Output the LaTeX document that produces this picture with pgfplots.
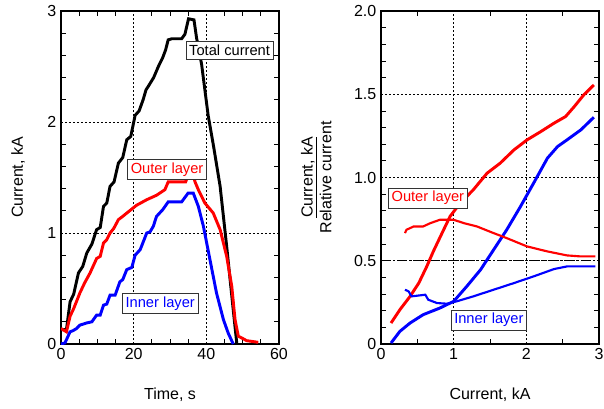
\documentclass[border=0pt]{standalone}
\usepackage{fontspec}
\setmainfont{Liberation Sans}
\usepackage{pgfplots}
\pgfplotsset{compat=1.18}

\pgfplotsset{
  panel/.style={
    scale only axis, width=163.5pt, height=249.75pt,
    anchor=south west,
    axis line style={line width=0.9pt},
    tick align=inside, major tick length=0pt, minor tick length=3.5pt,
    tick style={black, line width=0.6pt},
    grid=major,
    grid style={black, line width=0.45pt, dash pattern=on 1.6pt off 1.4pt},
    ticklabel style={font=\fontsize{12}{14}\selectfont},
    label style={font=\fontsize{12}{14}\selectfont},
    /pgf/number format/assume math mode=true,
  },
}
\tikzset{
  lbl/.style={draw=black!80, fill=white, line width=0.6pt, inner sep=2.4pt,
    font=\fontsize{11}{13}\selectfont},
}

\begin{document}
\begin{tikzpicture}
\useasboundingbox (-45.75pt,-48pt) rectangle (407.25pt,258pt);

% left: currents vs time
\begin{axis}[panel, at={(0,0)},
  xmin=0, xmax=60, ymin=0, ymax=3,
  xtick={0,20,40,60}, ytick={0,1,2,3},
  minor x tick num=3, minor y tick num=4,
  xlabel={Time, s}, ylabel={Current, kA},
  xlabel shift=14pt, ylabel shift=10pt,
]
\addplot[black, line width=2.2pt] coordinates {
(0,0.13)(1.5,0.13)(2.5,0.38)(3.5,0.45)(4.8,0.64)(6,0.7)(7.1,0.82)(8.5,0.9)
(9.8,1.03)(10.8,1.05)(11.7,1.24)(12.6,1.27)(13.5,1.42)(14.6,1.46)(15.8,1.63)
(17,1.68)(18.1,1.84)(19.2,1.87)(20.4,2.06)(21.5,2.1)(22.6,2.2)(23.4,2.29)
(24,2.32)(25.5,2.4)(26.8,2.5)(28,2.58)(28.8,2.65)(29.5,2.74)(30.5,2.75)
(33.2,2.75)(34.1,2.79)(35.1,2.93)(36.6,2.92)(37.3,2.76)(38.7,2.52)(40.5,2.06)
(42,1.78)(43.8,1.42)(45.6,0.88)(47.4,0.31)(48.4,0)};
\addplot[red, line width=2.2pt] coordinates {
(0,0.14)(1.5,0.11)(2.5,0.25)(3.5,0.32)(5.2,0.46)(6.5,0.55)(8,0.64)(9.8,0.77)
(10.8,0.79)(11.7,0.91)(12.6,0.94)(13.5,1.0)(14.5,1.04)(15.8,1.12)(17,1.15)
(18.5,1.19)(20.8,1.25)(23.6,1.30)(26.3,1.34)(28.6,1.39)(29.5,1.46)(34.3,1.46)
(35,1.52)(36.4,1.52)(36.9,1.46)(37.8,1.39)(39.6,1.27)(41.9,1.18)(43.8,1.03)
(45.6,0.79)(47,0.52)(47.9,0.22)(48.8,0.07)(50,0.05)(51.1,0.03)(54.3,0.015)};
\addplot[blue, line width=2.2pt] coordinates {
(0,0)(1.1,0.01)(2.5,0.11)(3.3,0.12)(4.3,0.14)(5.2,0.17)(7.1,0.19)(8.5,0.2)
(9.8,0.26)(10.8,0.26)(11.7,0.35)(12.6,0.36)(13.5,0.44)(14.9,0.44)(16.2,0.56)
(17,0.58)(18.1,0.67)(19.5,0.69)(20.4,0.80)(21.8,0.85)(23.6,1.0)(24.5,1.01)
(25.4,1.06)(26.3,1.15)(28,1.21)(29.5,1.28)(33.2,1.28)(35,1.36)(36.4,1.36)
(37.8,1.24)(39.2,1.06)(41,0.76)(42.8,0.46)(44.7,0.22)(46,0.1)(47.4,0)};
\node[lbl, text=black] at (axis cs:46.4,2.645) {Total current};
\node[lbl, text=red] at (axis cs:29.2,1.57) {Outer layer};
\node[lbl, text=blue] at (axis cs:27.3,0.367) {Inner layer};
\end{axis}

% right: relative currents vs total current
\begin{axis}[panel, at={(240pt,0)},
  xmin=0, xmax=3, ymin=0, ymax=2,
  xtick={0,1,2,3}, ytick={0,0.5,1,1.5,2},
  yticklabels={0,0.5,1.0,1.5,2.0},
  minor x tick num=1, minor y tick num=4,
  xlabel={Current, kA},
  ylabel={\underline{Current, kA}\\Relative current},
  ylabel style={align=center},
  xlabel shift=14pt, ylabel shift=10pt,
]
\addplot[black, line width=1pt, dash pattern=on 7pt off 2pt on 1.5pt off 2pt]
  coordinates {(0,0.5)(3,0.5)};
\addplot[red, line width=2.2pt] coordinates {
(0.138,0.126)(0.26,0.206)(0.40,0.286)(0.52,0.366)(0.63,0.466)(0.72,0.556)
(0.84,0.666)(0.95,0.766)(1.09,0.846)(1.27,0.926)(1.46,1.026)(1.64,1.086)
(1.83,1.166)(2.01,1.226)(2.20,1.276)(2.38,1.326)(2.54,1.366)(2.66,1.426)
(2.79,1.496)(2.93,1.556)};
\addplot[blue, line width=2.2pt] coordinates {
(0.138,0.006)(0.26,0.076)(0.40,0.126)(0.58,0.176)(0.81,0.216)(1.0,0.256)
(1.18,0.346)(1.37,0.446)(1.55,0.566)(1.73,0.686)(1.92,0.826)(2.10,0.966)
(2.29,1.116)(2.43,1.186)(2.56,1.226)(2.75,1.286)(2.93,1.362)};
\addplot[red, line width=1.6pt] coordinates {
(0.33,0.666)(0.35,0.686)(0.45,0.706)(0.58,0.706)(0.68,0.726)(0.81,0.746)
(1.0,0.746)(1.14,0.726)(1.32,0.706)(1.55,0.666)(1.73,0.636)(2.01,0.586)
(2.29,0.556)(2.56,0.532)(2.75,0.526)(2.95,0.526)};
\addplot[blue, line width=1.6pt] coordinates {
(0.33,0.326)(0.38,0.316)(0.42,0.286)(0.61,0.296)(0.65,0.266)(0.77,0.246)
(0.91,0.242)(1.04,0.256)(1.27,0.286)(1.55,0.326)(1.83,0.366)(2.10,0.406)
(2.38,0.45)(2.56,0.466)(2.95,0.466)};
\node[lbl, text=red] at (axis cs:0.645,0.877) {Outer layer};
\node[lbl, text=blue] at (axis cs:1.485,0.144) {Inner layer};
\end{axis}
\end{tikzpicture}
\end{document}
